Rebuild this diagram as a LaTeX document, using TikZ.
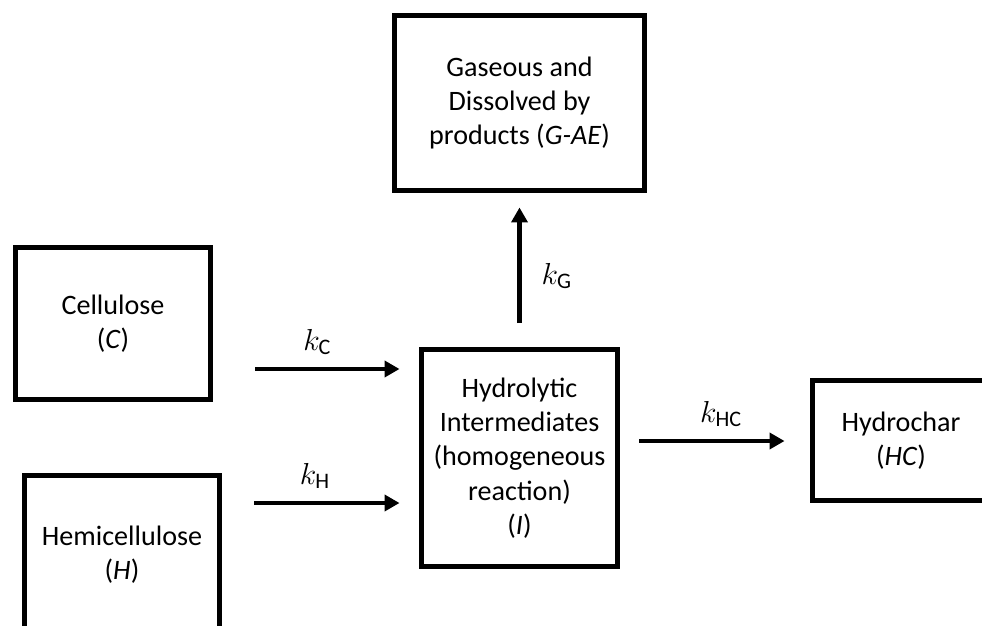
\documentclass[tikz,border=0pt]{standalone}
\usepackage{amsmath}
\usepackage{fontspec}
\setmainfont{Carlito}
\usetikzlibrary{arrows.meta}

\begin{document}
\begin{tikzpicture}[x=0.02cm, y=-0.02cm,
        box/.style={draw, line width=0.1cm, align=center, inner sep=0pt, font=\fontsize{16}{19.5}\selectfont},
        flow/.style={line width=0.09cm, -{Triangle[length=0.3cm, width=0.32cm]}},
        rate/.style={font=\fontsize{18}{21}\selectfont}]
        \clip (0,0) rectangle (982,625);
        \node[box, minimum width=5cm, minimum height=3.5cm] (gas) at (519.5,103) {Gaseous and\\ Dissolved by\\ products (\textit{G-AE})};
        \node[box, minimum width=3.9cm, minimum height=3.04cm] (cel) at (113,323.5) {Cellulose\\ (\textit{C})};
        \node[box, minimum width=3.9cm, minimum height=3.2cm] (hem) at (122,555) {Hemicellulose\\ (\textit{H})};
        \node[box, minimum width=3.92cm, minimum height=4.34cm] (hyd) at (519.5,458) {Hydrolytic\\ Intermediates\\ (homogeneous\\ reaction)\\ (\textit{I})};
        \node[box, minimum width=3.54cm, minimum height=2.4cm] (hch) at (901,440.5) {Hydrochar\\ (\textit{HC})};
        \coordinate (cin) at (255,369);
        \coordinate (hin) at (254,503);
        \coordinate (gin) at (519.5,323);
        \coordinate (hcin) at (639,441);
        \draw[flow, shorten >=0.39cm] (cin) -- node[rate, above=0.12cm, pos=0.38] {$k_{\text{C}}$} (cin -| hyd.west);
        \draw[flow, shorten >=0.39cm] (hin) -- node[rate, above=0.12cm, pos=0.37] {$k_{\text{H}}$} (hin -| hyd.west);
        \draw[flow, shorten >=0.29cm] (gin) -- node[rate, right=0.28cm, pos=0.36] {$k_{\text{G}}$} (gin |- gas.south);
        \draw[flow, shorten >=0.51cm] (hcin) -- node[rate, above=0.12cm, pos=0.48] {$k_{\text{HC}}$} (hcin -| hch.west);
\end{tikzpicture}
\end{document}
